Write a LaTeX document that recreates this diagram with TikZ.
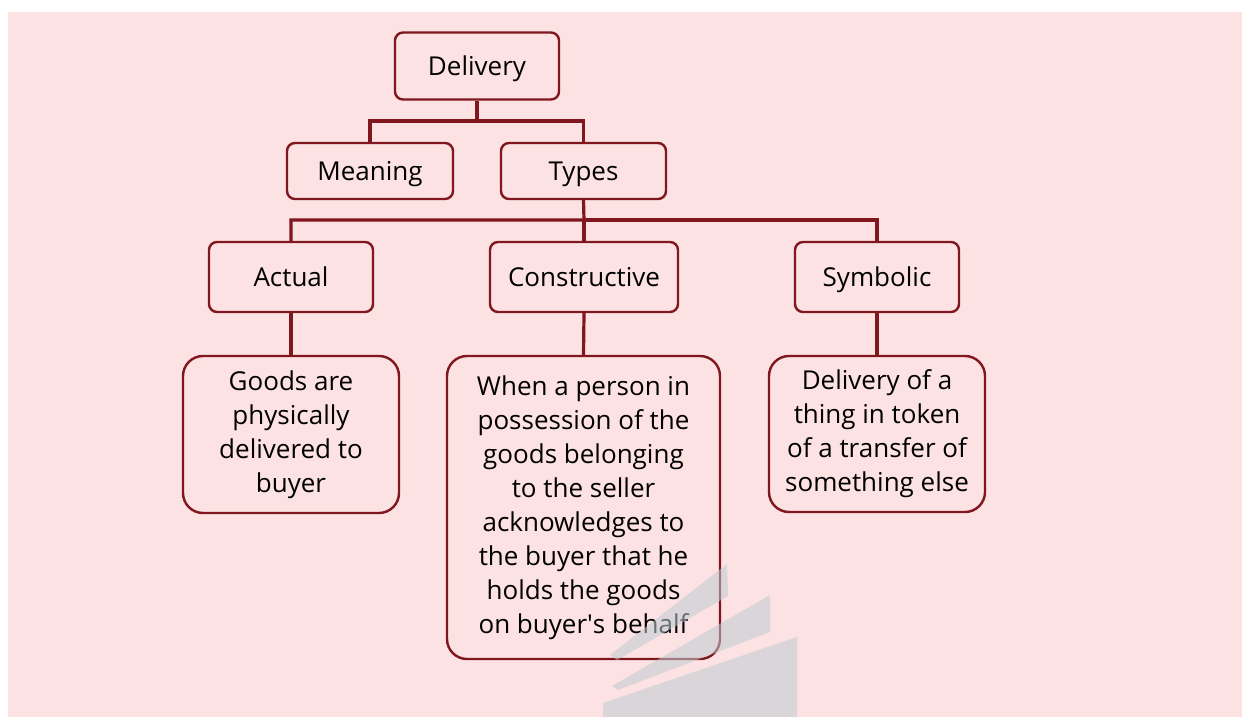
\documentclass[tikz,border=0pt]{standalone}
\usepackage{fontspec}
\setmainfont{Open Sans}
\usepackage{tikz}
\definecolor{bgpink}{RGB}{253,226,227}
\definecolor{darkred}{RGB}{128,22,30}
\definecolor{markgray}{RGB}{189,203,208}
\tikzset{descbox/.style={draw=darkred,line width=1.2pt,rounded corners=10pt,
    fill=bgpink,align=center,font=\fontsize{13}{17}\selectfont}}
\tikzset{box/.style={descbox,rounded corners=4pt,text height=9.3pt,text depth=0pt}}
\tikzset{link/.style={draw=darkred,line width=1.6pt}}

\begin{document}
\begin{tikzpicture}[x=0.5pt,y=-0.5pt]
                \useasboundingbox (0,0) rectangle (1242,717);
                \fill[bgpink] (8,12) rectangle (1242,717);

                % Top
                \node[box,minimum width=82pt,minimum height=33.5pt] (delivery) at (477,66) {Delivery};
                \node[box,minimum width=83pt,minimum height=28pt] (meaning) at (370,171) {Meaning};
                \node[box,minimum width=82.5pt,minimum height=28pt] (types) at (583.5,171) {Types};

                % Types
                \node[box,minimum width=82pt,minimum height=35pt] (actual) at (291,277) {Actual};
                \node[box,minimum width=94pt,minimum height=35pt] (constructive) at (584,277) {Constructive};
                \node[box,minimum width=82pt,minimum height=35pt] (symbolic) at (877,277) {Symbolic};

                % Descriptions
                \node[descbox,minimum width=108pt,minimum height=78.5pt] (actualtxt) at (291,434.5)
                    {Goods are\\physically\\delivered to\\buyer};
                \node[descbox,minimum width=136.5pt,minimum height=151.5pt] (constructivetxt) at (583.5,507.5)
                    {When a person in\\possession of the\\goods belonging\\to the seller\\acknowledges to\\the buyer that he\\holds the goods\\on buyer\textquotesingle s behalf};
                \node[descbox,minimum width=108pt,minimum height=78pt] (symbolictxt) at (877,434)
                    {Delivery of a\\thing in token\\of a transfer of\\something else};

                % Connectors
                \coordinate (bus1) at (477,121);
                \coordinate (bus2) at (584,220);
                \draw[link] (delivery.south) -- (bus1) -| (meaning.north);
                \draw[link] (bus1) -| (types.north);
                \draw[link] (types.south) -- (bus2) -| (actual.north);
                \draw[link] (bus2) -| (symbolic.north);
                \draw[link] (bus2) -- (constructive.north);
                \draw[link] (actual.south) -- (actualtxt.north);
                \draw[link] (constructive.south) -- (constructivetxt.north);
                \draw[link] (symbolic.south) -- (symbolictxt.north);

                % Watermark
                \fill[markgray,opacity=0.55] (610,655) -- (727,564) -- (728,596) -- (617,660) -- cycle;
                \fill[markgray,opacity=0.55] (612,686) -- (770,595) -- (770,632) -- (618,690) -- cycle;
                \fill[markgray,opacity=0.55] (603,703) -- (797,637) -- (797,717) -- (603,717) -- cycle;
\end{tikzpicture}
\end{document}
